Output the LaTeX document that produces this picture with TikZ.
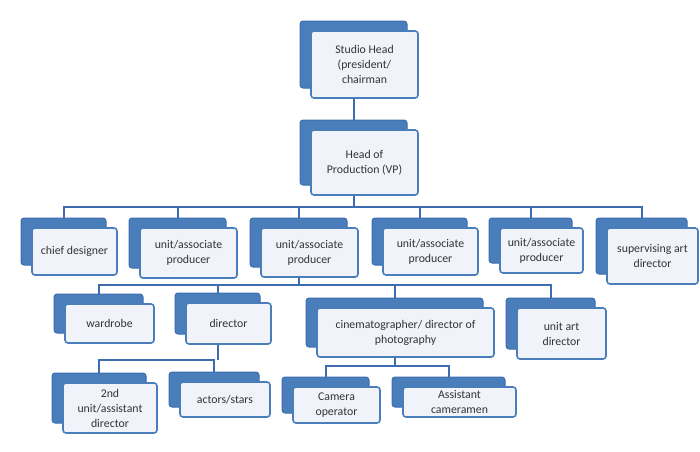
\documentclass[tikz,border=0pt]{standalone}
\usepackage{fontspec}
\setmainfont{Carlito}
\usetikzlibrary{backgrounds}
\definecolor{orgblue}{HTML}{4A7EBB}
\definecolor{orgline}{HTML}{3D6DB0}
\definecolor{orgfill}{HTML}{F0F4FA}
\definecolor{orgtext}{HTML}{333333}
\tikzset{
	boxsize/.style 2 args={minimum width=#1, minimum height=#2},
	backbox/.style={draw=orgline, fill=orgblue, rounded corners=3pt, line width=1pt, inner sep=0pt},
	frontbox/.style={draw=orgblue, fill=orgfill, rounded corners=3pt, line width=1.6pt, inner sep=0pt,
		align=center, text=orgtext, font=\fontsize{11.8}{15}\selectfont},
	link/.style={draw=orgline, line width=2pt}
}
\begin{document}
\begin{tikzpicture}[x=1pt, y=-1pt]
		\useasboundingbox ( 0, 0 ) rectangle ( 700, 451 );

		% studio head
		\node [backbox, boxsize={107pt}{67pt}] (shb) at ( 353.5, 54.5 ) {};
		\node [frontbox, boxsize={107pt}{67pt}] (sh) at ( 364.5, 64.5 ) {Studio Head\\(president/\\chairman};

		% head of production
		\node [backbox, boxsize={107pt}{65pt}] (hpb) at ( 353.5, 152.5 ) {};
		\node [frontbox, boxsize={107pt}{65pt}] (hp) at ( 364.5, 162.5 ) {Head of\\Production (VP)};

		% chief designer
		\node [backbox, boxsize={85pt}{47pt}] (cdb) at ( 63.5, 241.5 ) {};
		\node [frontbox, boxsize={85pt}{47pt}] (cd) at ( 74.5, 251.5 ) {chief designer};

		% unit/associate producer 1
		\node [backbox, boxsize={97pt}{50pt}] (ua1b) at ( 177.5, 243 ) {};
		\node [frontbox, boxsize={97pt}{50pt}] (ua1) at ( 188.5, 253 ) {unit/associate\\producer};

		% unit/associate producer 2
		\node [backbox, boxsize={97pt}{49pt}] (ua2b) at ( 298.5, 242.5 ) {};
		\node [frontbox, boxsize={97pt}{49pt}] (ua2) at ( 309.5, 252.5 ) {unit/associate\\producer};

		% unit/associate producer 3
		\node [backbox, boxsize={95pt}{47pt}] (ua3b) at ( 419.5, 241.5 ) {};
		\node [frontbox, boxsize={95pt}{47pt}] (ua3) at ( 430.5, 251.5 ) {unit/associate\\producer};

		% unit/associate producer 4
		\node [backbox, boxsize={83pt}{45pt}] (ua4b) at ( 530.5, 240.5 ) {};
		\node [frontbox, boxsize={83pt}{45pt}] (ua4) at ( 541.5, 250.5 ) {unit/associate\\producer};

		% supervising art director
		\node [backbox, boxsize={91pt}{56pt}] (sadb) at ( 641.5, 246 ) {};
		\node [frontbox, boxsize={91pt}{56pt}] (sad) at ( 652.5, 256 ) {supervising art\\director};

		% wardrobe
		\node [backbox, boxsize={89pt}{39pt}] (wrb) at ( 98.5, 313.5 ) {};
		\node [frontbox, boxsize={89pt}{39pt}] (wr) at ( 109.5, 323.5 ) {wardrobe};

		% director
		\node [backbox, boxsize={85pt}{41pt}] (dirb) at ( 217.5, 313.5 ) {};
		\node [frontbox, boxsize={85pt}{41pt}] (dir) at ( 228.5, 323.5 ) {director};

		% cinematographer
		\node [backbox, boxsize={177pt}{49pt}] (cinb) at ( 394.5, 322.5 ) {};
		\node [frontbox, boxsize={177pt}{49pt}] (cin) at ( 405.5, 332.5 ) {cinematographer/ director of\\photography};

		% unit art director
		\node [backbox, boxsize={89pt}{51pt}] (uadb) at ( 550.5, 323.5 ) {};
		\node [frontbox, boxsize={89pt}{51pt}] (uad) at ( 561.5, 333.5 ) {unit art\\director};

		% 2nd unit/assistant director
		\node [backbox, boxsize={94pt}{50pt}] (sub) at ( 99, 398 ) {};
		\node [frontbox, boxsize={94pt}{50pt}] (su) at ( 110, 408 ) {2nd\\unit/assistant\\director};

		% actors/stars
		\node [backbox, boxsize={90pt}{35pt}] (actb) at ( 214, 389.5 ) {};
		\node [frontbox, boxsize={90pt}{35pt}] (act) at ( 225, 399.5 ) {actors/stars};

		% camera operator
		\node [backbox, boxsize={87pt}{36pt}] (camb) at ( 325.5, 395 ) {};
		\node [frontbox, boxsize={87pt}{36pt}] (cam) at ( 336.5, 405 ) {Camera\\operator};

		% assistant cameramen
		\node [backbox, boxsize={113pt}{30pt}] (ascb) at ( 448.5, 392 ) {};
		\node [frontbox, boxsize={113pt}{30pt}] (asc) at ( 459.5, 402 ) {Assistant\\cameramen};

		% connectors
		\coordinate (bus1) at ( 0, 207 );
		\coordinate (bus2) at ( 0, 285 );
		\coordinate (bus3) at ( 0, 360 );
		\coordinate (bus4) at ( 0, 366 );
		\begin{scope}[on background layer]
			\draw [link] (shb) -- (hpb);
			\draw [link] (hpb) -- (hpb |- bus1);
			\draw [link] (cdb.north) -- (cdb.north |- bus1) -- (sadb.north |- bus1) -- (sadb.north);
			\foreach \b in {ua1b, ua2b, ua3b, ua4b}
				\draw [link] (\b.north) -- (\b.north |- bus1);

			\draw [link] (ua2b) -- (ua2b |- bus2);
			\draw [link] (wrb.north) -- (wrb.north |- bus2) -- (uadb.north |- bus2) -- (uadb.north);
			\foreach \b in {dirb, cinb}
				\draw [link] (\b.north) -- (\b.north |- bus2);

			\draw [link] (dirb) -- (dirb |- bus3);
			\draw [link] (sub.north) -- (sub.north |- bus3) -- (actb.north |- bus3) -- (actb.north);

			\draw [link] (cinb) -- (cinb |- bus4);
			\draw [link] (camb.north) -- (camb.north |- bus4) -- (ascb.north |- bus4) -- (ascb.north);
		\end{scope}
	\end{tikzpicture}
\end{document}
